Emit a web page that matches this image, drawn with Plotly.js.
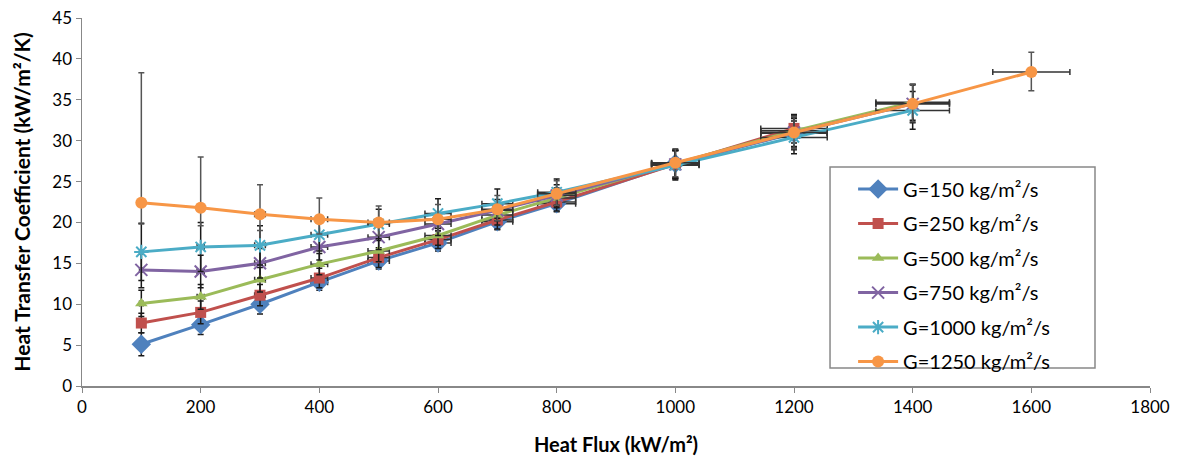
<!DOCTYPE html>
<html>
<head>
<meta charset="utf-8">
<script src="https://cdn.plot.ly/plotly-3.0.1.min.js"></script>
<style>html,body{margin:0;padding:0;background:#fff;}#chart{width:1180px;height:464px;}</style>
</head>
<body>
<div id="chart"></div>
<script>
const seriesNames = ["G=150 kg/m²/s", "G=250 kg/m²/s", "G=500 kg/m²/s", "G=750 kg/m²/s", "G=1000 kg/m²/s", "G=1250 kg/m²/s"];

// Heat flux (kW/m²) and heat transfer coefficient (kW/m²/K)
const flux150 = [100, 200, 300, 400, 500, 600, 700, 800, 1000, 1200];
const htc150  = [5.1, 7.5, 10.0, 12.7, 15.3, 17.5, 20.1, 22.3, 27.2, 30.9];
const flux250 = [100, 200, 300, 400, 500, 600, 700, 800, 1000, 1200];
const htc250  = [7.7, 9.0, 11.1, 13.2, 15.7, 17.9, 20.3, 22.5, 27.1, 31.5];
const flux500 = [100, 200, 300, 400, 500, 600, 700, 800, 1000, 1200, 1400];
const htc500  = [10.1, 10.9, 13.0, 14.9, 16.5, 18.4, 20.9, 23.0, 27.2, 31.2, 34.7];
const flux750 = [100, 200, 300, 400, 500, 600, 700, 800, 1000, 1200, 1400];
const htc750  = [14.2, 14.0, 15.0, 17.0, 18.2, 19.8, 21.5, 23.3, 27.1, 31.0, 34.5];
const flux1000 = [100, 200, 300, 400, 500, 600, 700, 800, 1000, 1200, 1400];
const htc1000  = [16.4, 17.0, 17.2, 18.5, 19.8, 21.1, 22.3, 23.7, 27.0, 30.4, 33.7];
const flux1250 = [100, 200, 300, 400, 500, 600, 700, 800, 1000, 1200, 1400, 1600];
const htc1250  = [22.4, 21.8, 21.0, 20.4, 20.0, 20.4, 21.6, 23.5, 27.3, 31.0, 34.5, 38.4];

// y error bars (plus / minus)
const errUp150 = [1.4, 1.2, 1.2, 1.0, 1.0, 1.0, 1.0, 1.0, 1.6, 1.8];
const errDn150 = [1.4, 1.2, 1.2, 1.0, 1.0, 1.0, 1.0, 1.0, 1.8, 2.0];
const errUp250 = [1.2, 1.4, 1.3, 1.2, 1.2, 1.1, 1.1, 1.1, 1.7, 1.7];
const errDn250 = [1.2, 1.4, 1.3, 1.2, 1.2, 1.1, 1.1, 1.1, 1.8, 1.8];
const errUp500 = [1.6, 1.5, 1.5, 1.3, 1.3, 1.2, 1.2, 1.2, 1.7, 1.9, 2.2];
const errDn500 = [1.6, 1.5, 1.5, 1.3, 1.3, 1.2, 1.2, 1.2, 1.7, 1.9, 2.2];
const errUp750 = [2.2, 2.0, 1.8, 1.6, 1.5, 1.4, 1.3, 1.3, 1.7, 1.9, 2.3];
const errDn750 = [2.2, 2.0, 1.8, 1.6, 1.5, 1.4, 1.3, 1.3, 1.7, 1.9, 2.3];
const errUp1000 = [3.5, 3.0, 2.4, 2.0, 1.8, 1.8, 1.8, 1.6, 1.8, 2.0, 2.3];
const errDn1000 = [3.5, 3.0, 2.4, 2.0, 1.8, 1.8, 1.8, 1.6, 1.8, 2.0, 2.3];
const errUp1250 = [15.9, 6.2, 3.6, 2.6, 2.0, 1.8, 1.7, 1.6, 1.7, 2.0, 2.4, 2.4];
const errDn1250 = [2.6, 2.2, 2.0, 1.8, 1.6, 1.5, 1.4, 1.4, 1.7, 2.0, 2.2, 2.3];

// x error bars (kW/m²)
const xErr150  = [3, 6, 9, 14, 18, 22, 26, 32, 40, 56];
const xErr250  = [3, 6, 9, 14, 18, 22, 26, 32, 40, 56];
const xErr500  = [3, 6, 9, 14, 18, 22, 26, 32, 40, 56, 62];
const xErr750  = [3, 6, 9, 14, 18, 22, 26, 32, 40, 56, 62];
const xErr1000 = [3, 6, 9, 14, 18, 22, 26, 32, 40, 56, 62];
const xErr1250 = [3, 6, 9, 14, 18, 22, 26, 32, 40, 56, 62, 65];

const xTicks = [0, 200, 400, 600, 800, 1000, 1200, 1400, 1600, 1800];
const yTicks = [0, 5, 10, 15, 20, 25, 30, 35, 40, 45];

const colors = ["#4F81BD", "#C0504D", "#9BBB59", "#8064A2", "#4BACC6", "#F79646"];
const symbols = ["diamond", "square", "triangle-up", "x-thin-open", "asterisk-open", "circle"];
const msizes = [15, 11, 11, 12, 12, 12];

const xs = [flux150, flux250, flux500, flux750, flux1000, flux1250];
const ys = [htc150, htc250, htc500, htc750, htc1000, htc1250];
const eu = [errUp150, errUp250, errUp500, errUp750, errUp1000, errUp1250];
const ed = [errDn150, errDn250, errDn500, errDn750, errDn1000, errDn1250];
const ex = [xErr150, xErr250, xErr500, xErr750, xErr1000, xErr1250];

const traces = seriesNames.map((name, i) => ({
  type: "scatter",
  mode: "lines+markers",
  name: name,
  legendgroup: "g" + i,
  x: xs[i],
  y: ys[i],
  line: {color: colors[i], width: 3},
  marker: {symbol: symbols[i], size: msizes[i], color: colors[i],
           line: {color: colors[i], width: (symbols[i].indexOf("open") >= 0 ? 2 : 0)}},
  error_y: {type: "data", symmetric: false, array: eu[i], arrayminus: ed[i],
            color: i === 5 ? "#555555" : "#1a1a1a", thickness: 1.5, width: 3},
  error_x: {type: "data", array: ex[i], color: "#333333", thickness: 1.5, width: 3}
}));

const layout = {
  width: 1180, height: 464,
  margin: {l: 82, r: 30, t: 18, b: 78},
  paper_bgcolor: "#ffffff",
  plot_bgcolor: "#ffffff",
  font: {family: "Lato, 'Open Sans', sans-serif", color: "#000", size: 17},
  showlegend: true,
  legend: {
    x: 0.722, y: 0.588, xanchor: "left", yanchor: "top",
    borderwidth: 0, bgcolor: "rgba(255,255,255,0)",
    font: {size: 20, family: "Lato, 'Open Sans', sans-serif"},
    traceorder: "grouped", tracegroupgap: 5.5, itemwidth: 40
  },
  shapes: [{
    type: "rect", xref: "paper", yref: "paper",
    x0: 0.7004, x1: 0.9485, y0: 0.049, y1: 0.595,
    line: {color: "#888888", width: 1.5}, fillcolor: "rgba(255,255,255,1)", layer: "below"
  }],
  xaxis: {
    range: [0, 1800], tickvals: xTicks, ticktext: xTicks.map(String),
    showgrid: false, zeroline: false, showline: true, linecolor: "#888888", linewidth: 1.5,
    ticks: "outside", ticklen: 5, tickcolor: "#888888",
    tickfont: {size: 17},
    title: {text: "<b>Heat Flux (kW/m²)</b>", font: {size: 20}, standoff: 22}
  },
  yaxis: {
    range: [0, 45], tickvals: yTicks, ticktext: yTicks.map(String),
    showgrid: false, zeroline: false, showline: true, linecolor: "#888888", linewidth: 1.5,
    ticks: "outside", ticklen: 5, tickcolor: "#888888",
    tickfont: {size: 17},
    title: {text: "<b>Heat Transfer Coefficient (kW/m²/K)</b>", font: {size: 21}, standoff: 16}
  }
};

Plotly.newPlot("chart", traces, layout, {displayModeBar: false, staticPlot: true});
</script>
</body>
</html>
